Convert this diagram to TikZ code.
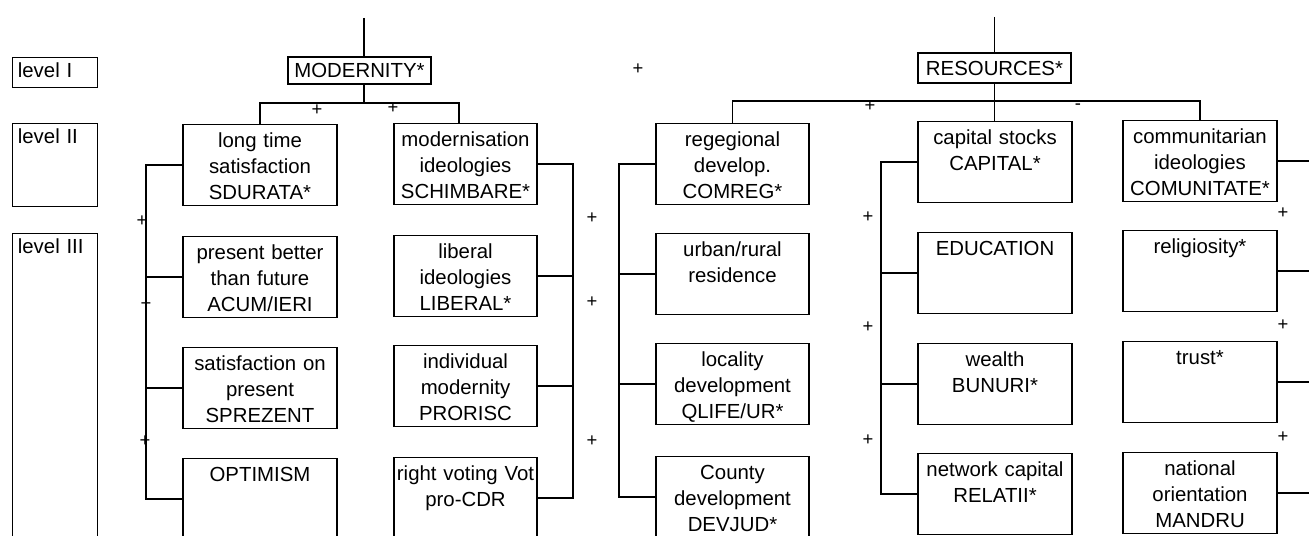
\documentclass[tikz,border=0pt]{standalone}
\usepackage{fontspec}
\setmainfont{Liberation Sans}
\usetikzlibrary{calc}

\begin{document}
\begin{tikzpicture}[x=0.02cm, y=-0.02cm,
  font=\fontsize{11.6}{14.7}\selectfont,
  cell/.style={draw, line width=0.7pt, inner xsep=0pt, inner ysep=4pt, text width=#1, align=center, text height=9.5pt, text depth=29pt},
  lvl/.style={draw, line width=0.7pt, anchor=north west, inner xsep=3pt, inner ysep=3pt, text width=1.488cm, align=left, text height=8.5pt, text depth=#1},
  headbox/.style={draw, line width=0.7pt, inner sep=0pt},
  sgn/.style={font=\fontsize{10.5}{11}\selectfont, inner sep=0pt},
  ln/.style={line width=0.6pt}]
\useasboundingbox (0,0) rectangle (1309,536);
\clip (0,0) rectangle (1309,536);
% levels
\node[lvl=2.5pt] (lvlI) at (12,57) {level I};
\node[lvl=32.6pt] (lvlII) at (12,123) {level II};
\node[lvl=171pt] (lvlIII) at (12,233) {level III};
% level I
\node[headbox, minimum width=2.86cm, minimum height=0.54cm] (modern) at (359.5,70.5) {MODERNITY*};
\node[headbox, minimum width=3.06cm, minimum height=0.6cm] (resour) at (994.5,68) {RESOURCES*};
\node[sgn] (pmid) at (638,69) {+};
% modernity side
\node[cell=3.08cm] (sdurata) at (260,165) {long time\\satisfaction\\SDURATA*};
\node[cell=3.08cm] (acum) at (260,277) {present better\\than future\\ACUM/IERI};
\node[cell=3.08cm] (sprezent) at (260,388) {satisfaction on\\present\\SPREZENT};
\node[cell=3.08cm] (optim) at (260,499) {OPTIMISM};
\node[cell=2.86cm] (schimb) at (465.5,164) {modernisation\\ideologies\\SCHIMBARE*};
\node[cell=2.86cm] (liberal) at (465.5,276) {liberal\\ideologies\\LIBERAL*};
\node[cell=2.86cm] (prorisc) at (465.5,386) {individual\\modernity\\PRORISC};
\node[cell=2.86cm] (votcdr) at (465.5,498) {right voting Vot\\pro-CDR};
% resources side
\node[cell=3.06cm] (comreg) at (732.5,164) {regegional\\develop.\\COMREG*};
\node[cell=3.06cm] (resid) at (732.5,274) {urban/rural\\residence};
\node[cell=3.06cm] (qlife) at (732.5,384) {locality\\development\\QLIFE/UR*};
\node[cell=3.06cm] (devjud) at (732.5,497) {County\\development\\DEVJUD*};
\node[cell=3.08cm] (capital) at (995,162) {capital stocks\\CAPITAL*};
\node[cell=3.08cm] (educ) at (995,273) {EDUCATION};
\node[cell=3.08cm] (bunuri) at (995,384) {wealth\\BUNURI*};
\node[cell=3.08cm] (relatii) at (995,494) {network capital\\RELATII*};
\node[cell=3.08cm] (comunit) at (1200,161) {communitarian\\ideologies\\COMUNITATE*};
\node[cell=3.08cm] (relig) at (1200,271) {religiosity*};
\node[cell=3.08cm] (trust) at (1200,382) {trust*};
\node[cell=3.08cm] (mandru) at (1200,493) {national\\orientation\\MANDRU};
% bars and brackets
\coordinate (modtop) at (364,18);
\coordinate (modbar) at (459,103);
\coordinate (restop) at (994.5,17);
\coordinate (resbar) at (994.5,101);
\coordinate (b1) at (146,0);
\coordinate (b2) at (573,0);
\coordinate (b3) at (619,0);
\coordinate (b4) at (881,0);
\draw[ln] (modtop) -- (modtop |- modern.north);
\draw[ln] (modtop |- modern.south) -- (modtop |- modbar);
\draw[ln] (sdurata.north) |- (modbar) -- (modbar |- schimb.north);
\node[sgn] (pm1) at (317,110) {+};
\node[sgn] (pm2) at (393,108) {+};
\draw[ln] (restop) -- (resour.north);
\draw[ln] (resour.south) -- (resour.south |- capital.north);
\draw[ln] (comreg.north) |- (resbar) -| (comunit.north);
\node[sgn] (pr1) at (870,106) {+};
\node[sgn] (pr2) at (1078,107) {-};
% left of modernity column
\draw[ln] (sdurata.west) -- (sdurata.west -| b1) |- (optim.west);
\draw[ln] (acum.west) -- (acum.west -| b1);
\draw[ln] (sprezent.west) -- (sprezent.west -| b1);
\node[sgn] (pa1) at (142,221) {+};
\node[sgn] (pa2) at (146,304) {+};
\node[sgn] (pa3) at (145,441) {+};
% between the halves
\draw[ln] (schimb.east) -- (schimb.east -| b2) |- (votcdr.east);
\draw[ln] (liberal.east) -- (liberal.east -| b2);
\draw[ln] (prorisc.east) -- (prorisc.east -| b2);
\draw[ln] (comreg.west) -- (comreg.west -| b3) |- (devjud.west);
\draw[ln] (resid.west) -- (resid.west -| b3);
\draw[ln] (qlife.west) -- (qlife.west -| b3);
\node[sgn] (pb1) at (592,218) {+};
\node[sgn] (pb2) at (592,302) {+};
\node[sgn] (pb3) at (592,441) {+};
% capital column
\draw[ln] (capital.west) -- (capital.west -| b4) |- (relatii.west);
\draw[ln] (educ.west) -- (educ.west -| b4);
\draw[ln] (bunuri.west) -- (bunuri.west -| b4);
\node[sgn] (pc1) at (868,217) {+};
\node[sgn] (pc2) at (868,327) {+};
\node[sgn] (pc3) at (868,440) {+};
% communitarian column
\draw[ln] (comunit.east) -- ++(40,0);
\draw[ln] (relig.east) -- ++(40,0);
\draw[ln] (trust.east) -- ++(40,0);
\draw[ln] (mandru.east) -- ++(40,0);
\node[sgn] (pd1) at (1283,213) {+};
\node[sgn] (pd2) at (1283,325) {+};
\node[sgn] (pd3) at (1283,437) {+};
\end{tikzpicture}
\end{document}
